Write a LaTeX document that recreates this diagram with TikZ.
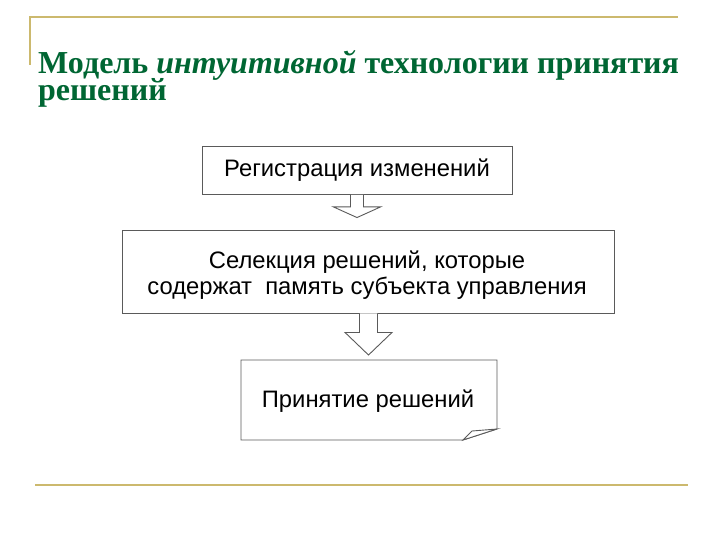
\documentclass[tikz,border=0pt]{standalone}
\usepackage{fontspec}
\setmainfont{Liberation Serif}
\newfontfamily\arialf{Liberation Sans}
\usetikzlibrary{calc}
\definecolor{titlegreen}{RGB}{0,102,51}
\definecolor{gold}{RGB}{204,185,110}
\definecolor{boxline}{RGB}{90,90,90}
\tikzset{
  goldline/.style={draw=gold,line width=2pt},
  titletext/.style={anchor=base west,inner sep=0pt,text=titlegreen,font=\fontsize{32}{32}\selectfont\bfseries},
  boxfont/.style={font=\arialf\fontsize{23.8}{26.5}\selectfont,align=center},
  box/.style={draw=boxline,line width=0.9pt,fill=white,inner sep=0pt,boxfont},
  blockarrow/.style={draw=boxline,line width=0.9pt,fill=white,line join=miter},
}
\begin{document}
\begin{tikzpicture}[x=1pt,y=-1pt]
\useasboundingbox (0,0) rectangle (720,540);
% decorative lines
\draw[goldline] (30,65) -- (30,17) -- (678,17);
\draw[goldline] (35,485) -- (688,485);
% title
\node[titletext] (t1) at (38,74) {Модель \textit{интуитивной} технологии принятия};
\node[titletext] (t2) at (38,100.5) {решений};
% boxes
\node[box,minimum width=310pt,minimum height=48pt] (b1) at (357,170.5) {Регистрация изменений};
\node[box,minimum width=492pt,minimum height=83pt] (b2) at (368,271.5) {};
\node[inner sep=0pt,boxfont] (b2t) at (367,275) {Селекция решений, которые\\содержат\ \ память субъекта управления};
\draw[boxline,line width=0.9pt,fill=white] (241,360) -- (497,360) -- (497,429) -- (463,440) -- (241,440) -- cycle;
\draw[boxline,line width=0.9pt,fill=white] (497,429) -- (472,431) -- (463,440) -- cycle;
\node[inner sep=0pt,boxfont] (b3) at (368,401) {Принятие решений};
\coordinate (b3top) at (368.5,360);
% block arrows
\draw[blockarrow] ($(b1.south)+(-6.5,0)$) -- ($(b1.south)+(-6.5,12)$) -- ($(b1.south)+(-23.5,12)$)
  -- ($(b1.south |- b2.north)+(0,-12)$)
  -- ($(b1.south)+(23.5,12)$) -- ($(b1.south)+(6.5,12)$) -- ($(b1.south)+(6.5,0)$);
\draw[blockarrow] ($(b3top |- b2.south)+(-9,0)$) -- ($(b3top |- b2.south)+(-9,19)$) -- ($(b3top |- b2.south)+(-23.5,19)$)
  -- ($(b3top)+(0,-5)$)
  -- ($(b3top |- b2.south)+(23.5,19)$) -- ($(b3top |- b2.south)+(9,19)$) -- ($(b3top |- b2.south)+(9,0)$);
\end{tikzpicture}
\end{document}
